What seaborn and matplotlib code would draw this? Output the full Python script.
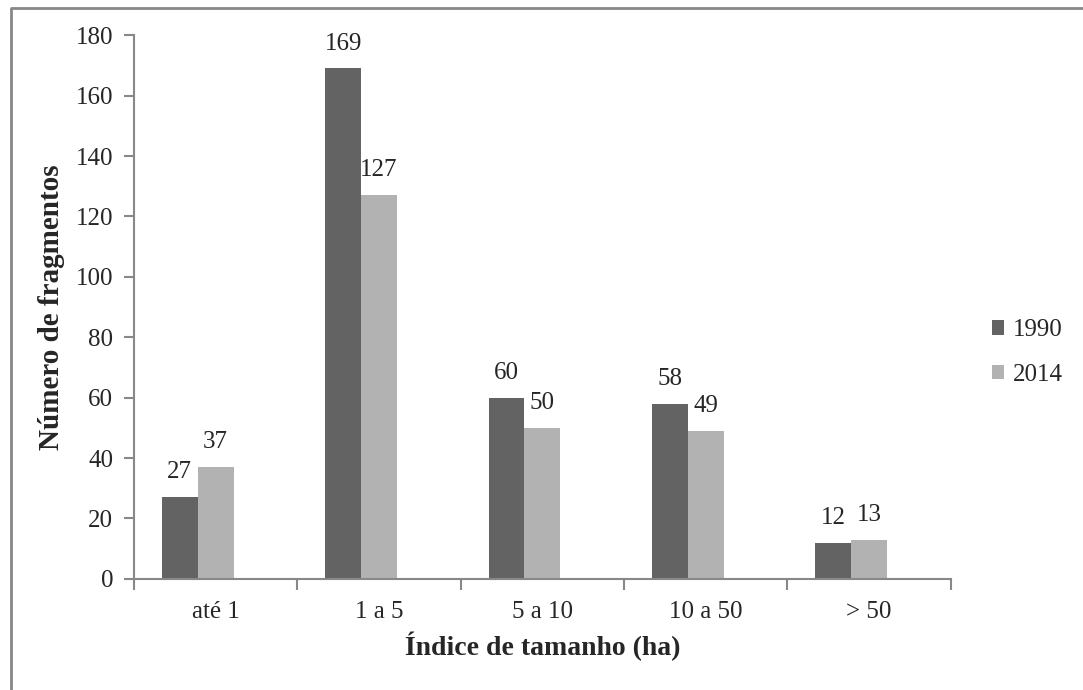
import pandas as pd
import matplotlib
matplotlib.use("Agg")
import matplotlib.pyplot as plt
from matplotlib.lines import Line2D
from matplotlib.patches import Patch
import seaborn as sns

# data
categories = ["até 1", "1 a 5", "5 a 10", "10 a 50", "> 50"]
years = ["1990", "2014"]
values_1990 = [27, 169, 60, 58, 12]
values_2014 = [37, 127, 50, 49, 13]
colors = ["#636363", "#b2b2b2"]

# long format for seaborn
df = pd.DataFrame({
    "Classe": categories * 2,
    "Ano": [years[0]] * len(categories) + [years[1]] * len(categories),
    "Fragmentos": values_1990 + values_2014,
})

sns.set_style("white")
plt.rcParams["font.family"] = ["Liberation Serif", "DejaVu Serif"]

fig = plt.figure(figsize=(10.83, 6.90), dpi=100)
ax = fig.add_axes([0.1237, 0.161, 0.878 - 0.1237, 0.949 - 0.161])

sns.barplot(data=df, x="Classe", y="Fragmentos", hue="Ano", order=categories,
            hue_order=years, palette=colors, width=0.44, saturation=1,
            linewidth=0, legend=False, ax=ax)

# the original chart leaves room for an empty third series, so the pair sits left of centre
for patch in ax.patches:
    patch.set_x(patch.get_x() - patch.get_width() / 2)

# value labels above bars
for container in ax.containers:
    ax.bar_label(container, fmt="%d", padding=10, fontsize=18)

# axes styling
grey = "#888888"
ax.set_ylim(0, 180)
ax.set_yticks(range(0, 181, 20))
ax.set_xlim(-0.5, len(categories) - 0.5)
ax.set_xticks([i - 0.5 for i in range(len(categories) + 1)], minor=False)
ax.set_xticklabels([])
ax.set_xticks(range(len(categories)), minor=True)
ax.set_xticklabels(categories, minor=True)
ax.tick_params(axis="x", which="major", bottom=True, length=8, width=1.5, color=grey, direction="out")
ax.tick_params(axis="x", which="minor", bottom=False, length=0, labelsize=18, pad=16)
ax.tick_params(axis="y", left=True, length=7, width=1.5, color=grey, direction="out", labelsize=18, pad=8)
for side in ["top", "right"]:
    ax.spines[side].set_visible(False)
for side in ["left", "bottom"]:
    ax.spines[side].set_color(grey)
    ax.spines[side].set_linewidth(1.5)

ax.set_xlabel("Índice de tamanho (ha)", fontsize=20, fontweight="bold", labelpad=6)
ax.set_ylabel("Número de fragmentos", fontsize=21, fontweight="bold", labelpad=8)

# legend on the right
handles = [Patch(facecolor=c, edgecolor="none") for c in colors]
fig.legend(handles, years, loc="center left", bbox_to_anchor=(0.895, 0.489),
           frameon=False, fontsize=18, handlelength=0.5, handleheight=0.5,
           handletextpad=0.35, labelspacing=0.9)

# partial border around the figure
fig.add_artist(Line2D([10.5 / 1083, 10.5 / 1083, 1], [0, 1 - 7.5 / 690, 1 - 7.5 / 690],
                      transform=fig.transFigure, color=grey, linewidth=2))

plt.savefig("out.png", dpi=100)
plt.close()
